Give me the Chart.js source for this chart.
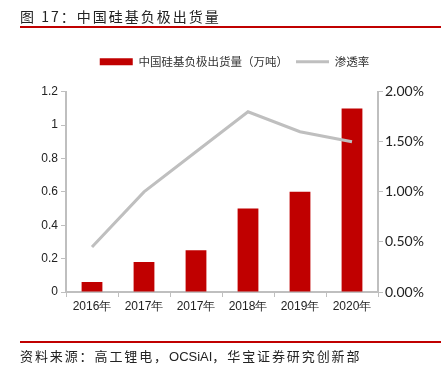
<!DOCTYPE html>
<html>
<head>
<meta charset="utf-8">
<script src="https://cdn.jsdelivr.net/npm/chart.js@4"></script>
<style>
  body { margin: 0; background: #fff; }
  #wrap { position: relative; width: 443px; height: 371px; overflow: hidden; }
  #chart { position: absolute; left: 0; top: 0; }
  .title { position: absolute; left: 20px; top: 6px; font: 14px "Noto Sans CJK SC"; letter-spacing: 2px; color: #222; }
  .rule { position: absolute; left: 20px; width: 421px; height: 2px; background: #c00000; }
  .source { position: absolute; left: 20px; top: 346px; font: 13px "Noto Sans CJK SC"; letter-spacing: 1.9px; color: #222; }
  .source span { font-family: "Liberation Sans"; letter-spacing: 0; }
</style>
</head>
<body>
<div id="wrap">
  <canvas id="chart" width="443" height="371"></canvas>
  <div class="title">图 17：中国硅基负极出货量</div>
  <div class="rule" style="top:26px"></div>
  <div class="rule" style="top:341px"></div>
  <div class="source">资料来源：高工锂电，<span>OCSiAI</span>，华宝证券研究创新部</div>
</div>
<script>
var years = ["2016年", "2017年", "2017年", "2018年", "2019年", "2020年"];
var shipments = [0.06, 0.18, 0.25, 0.5, 0.6, 1.1];
var penetration = [0.45, 1.0, 1.4, 1.8, 1.6, 1.5];

var axisColor = "#bfbfbf";

new Chart("chart", {
  data: {
    labels: years,
    datasets: [{
      type: "line",
      label: "渗透率",
      data: penetration,
      yAxisID: "y1",
      borderColor: "#bfbfbf",
      backgroundColor: "#bfbfbf",
      borderWidth: 3,
      pointRadius: 0,
      tension: 0,
      order: 0
    }, {
      type: "bar",
      label: "中国硅基负极出货量（万吨）",
      data: shipments,
      yAxisID: "y",
      backgroundColor: "#c00000",
      categoryPercentage: 1,
      barPercentage: 0.4,
      order: 1
    }]
  },
  options: {
    responsive: false,
    animation: false,
    layout: { padding: { top: 48, left: 26, right: 0, bottom: 0 } },
    plugins: {
      tooltip: { enabled: false },
      subtitle: {
        // spacer between legend and plot
        display: true,
        text: "",
        weight: 500,
        font: { size: 1 },
        padding: { top: 0, bottom: 13 }
      },
      legend: {
        display: true,
        position: "top",
        reverse: true,
        labels: {
          usePointStyle: true,
          pointStyleWidth: 33,
          boxHeight: 7,
          padding: 8,
          color: "#333",
          font: { family: "Noto Sans CJK SC", size: 11.5 },
          generateLabels: function(chart) {
            var items = Chart.defaults.plugins.legend.labels.generateLabels(chart);
            items.forEach(function(it) {
              if (it.datasetIndex === 0) {
                it.pointStyle = "line";
                it.lineWidth = 3;
                it.strokeStyle = "#bfbfbf";
              } else {
                it.pointStyle = "rect";
                it.lineWidth = 0;
                it.fillStyle = "#c00000";
              }
            });
            return items;
          }
        }
      }
    },
    scales: {
      x: {
        offset: true,
        grid: { display: true, drawOnChartArea: false, offset: true, tickLength: 5, color: axisColor },
        border: { color: axisColor, width: 2 },
        ticks: { color: "#222", font: { family: "Liberation Sans", size: 12 }, padding: 2, maxRotation: 0 },
        afterFit: function(s) { s.height = 79; }
      },
      y: {
        position: "left",
        min: 0,
        max: 1.2,
        ticks: { stepSize: 0.2, color: "#222", font: { family: "Liberation Sans", size: 12 }, padding: 3,
          callback: function(v) { return Math.round(v * 10) / 10; } },
        grid: { drawOnChartArea: false, tickLength: 5, color: axisColor },
        border: { color: axisColor, width: 2 },
        afterFit: function(s) { s.width = 40; }
      },
      y1: {
        position: "right",
        min: 0,
        max: 2,
        ticks: { stepSize: 0.5, color: "#222", font: { family: "Lato", size: 14 }, padding: 2,
          callback: function(v) { return v.toFixed(2) + "%"; } },
        grid: { drawOnChartArea: false, tickLength: 5, color: axisColor },
        border: { color: axisColor, width: 2 },
        afterFit: function(s) { s.width = 65; }
      }
    }
  }
});
</script>
</body>
</html>
